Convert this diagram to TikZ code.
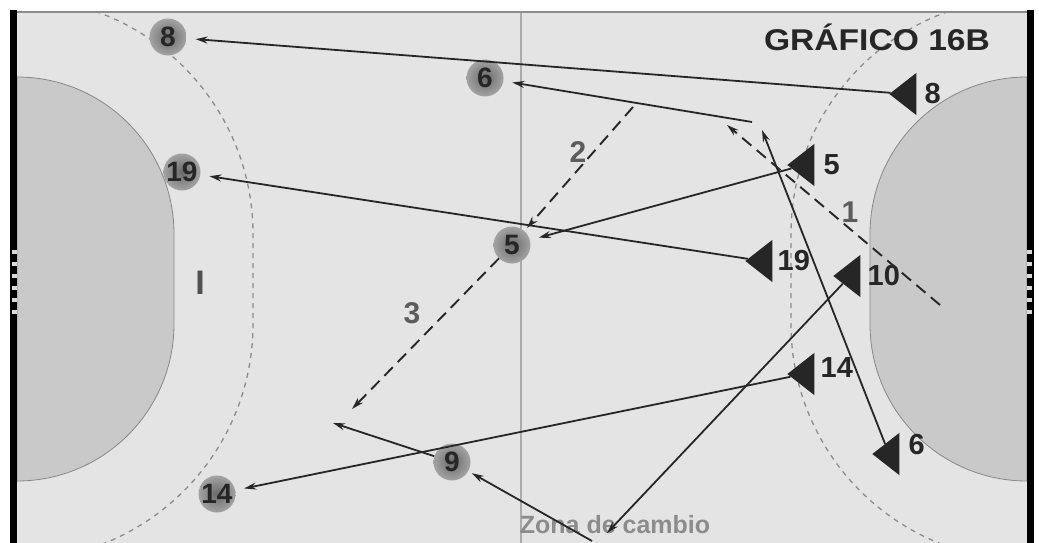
\documentclass[tikz,border=0pt]{standalone}
\usepackage{fontspec}
\setmainfont{Liberation Sans}
\usepackage{tikz}
\usetikzlibrary{shapes.geometric,arrows.meta,positioning,calc}
\definecolor{court}{HTML}{E4E4E4}
\definecolor{area}{HTML}{C9C9C9}
\definecolor{ink}{HTML}{262626}
\definecolor{mid}{HTML}{8C8C8C}
\definecolor{lbl}{HTML}{5C5C5C}

\begin{document}
\begin{tikzpicture}[x=1pt,y=-1pt,
    defn/.style={circle, inner sep=0pt, minimum size=37pt,
                 shading=radial, inner color=mid!75!black, outer color=mid!80!white,
                 font=\fontsize{28}{28}\selectfont\bfseries, text=ink},
    attk/.style={isosceles triangle, isosceles triangle apex angle=76,
                 shape border rotate=180, fill=ink, inner sep=0pt,
                 minimum height=27pt, minimum width=42pt, anchor=apex},
    num/.style={font=\fontsize{29}{29}\selectfont\bfseries, text=ink, inner sep=0pt},
    tag/.style={font=\fontsize{30}{30}\selectfont\bfseries, text=lbl, inner sep=0pt},
    run/.style={draw=ink, line width=1.8pt, shorten >=9pt,
                -{Stealth[length=12pt,width=7pt]}},
    pass/.style={draw=ink, line width=1.9pt, dash pattern=on 12pt off 7pt,
                -{Stealth[length=12pt,width=7pt]}},
    ninem/.style={draw=mid, line width=1.3pt, dash pattern=on 5pt off 5pt},
]
\useasboundingbox (0,0) rectangle (1039,543);
\fill[white] (0,0) rectangle (1039,543);
\fill[court] (17,12) rectangle (1027,543);

\begin{scope}
\clip (17,12) rectangle (1027,543);
\filldraw[fill=area, draw=ink!55, line width=0.8pt]
    (17,77) arc[start angle=-90, end angle=0, radius=157] -- (174,324)
    arc[start angle=0, end angle=90, radius=157] -- cycle;
\filldraw[fill=area, draw=ink!55, line width=0.8pt]
    (1027,77) arc[start angle=-90, end angle=-180, radius=157] -- (870,324)
    arc[start angle=180, end angle=90, radius=157] -- cycle;
\draw[ninem] (17,-2) arc[start angle=-90, end angle=0, radius=236] -- (253,324)
    arc[start angle=0, end angle=90, radius=236];
\draw[ninem] (1027,-2) arc[start angle=-90, end angle=-180, radius=236] -- (791,324)
    arc[start angle=180, end angle=90, radius=236];
\draw[area!85!black, line width=2.5pt] (521,12) -- (521,543);
\end{scope}

\draw[mid, line width=1.5pt] (17,12) -- (1027,12);
\fill[black] (10,10) rectangle (17,543);
\fill[black] (1027,10) rectangle (1034,543);
\foreach \y in {250,262,274,286,298,310} {
  \fill[white!85!black] (12,\y) rectangle (17,\y+4);
  \fill[white!85!black] (1027,\y) rectangle (1032,\y+4);
}

\node[font=\fontsize{30}{30}\selectfont\bfseries, text=ink] (title) at (877,37) {\scalebox{1.12}[1]{GRÁFICO 16B}};
\node[font=\fontsize{34}{34}\selectfont\bfseries, text=ink!80] (goalI) at (200,283) {I};
\node[font=\fontsize{25}{25}\selectfont\bfseries, text=mid] (zone) at (615,525) {Zona de cambio};

\node[defn] (c8) at (168,37) {8};
\node[defn] (c6) at (485,78) {6};
\node[defn] (c19) at (182,172) {19};
\node[defn] (c5) at (512,245) {5};
\node[defn] (c9) at (452,462) {9};
\node[defn] (c14) at (217,494) {14};

\node[attk] (t8) at (889,94) {};
\node[attk] (t5) at (787,165) {};
\node[attk] (t19) at (745,261) {};
\node[attk] (t10) at (833,276) {};
\node[attk] (t14) at (787,374) {};
\node[attk] (t6) at (872,454) {};

\node[num, right=8pt of t8] (n8) {8};
\node[num, right=9pt of t5] (n5) {5};
\node[num, right=5pt of t19] (n19) {19};
\node[num, right=7pt of t10] (n10) {10};
\node[num, right=6pt of t14, yshift=6pt] (n14) {14};
\node[num, right=9pt of t6, yshift=9pt] (n6) {6};

\coordinate (p6) at (752,122);
\coordinate (e6) at (762,130);
\coordinate (s1) at (940,305);
\coordinate (e1) at (727,125);
\coordinate (s2) at (633,107);
\coordinate (e3) at (352,409);
\coordinate (e9) at (333,423);
\coordinate (e10) at (607,533);
\coordinate (s9) at (592,541);

\draw[run] (t8) -- (c8);
\draw[run] (p6) -- (c6);
\draw[run, shorten >=0pt] (t6) -- (e6);
\draw[run] (t5) -- (c5);
\draw[run] (t19) -- (c19);
\draw[run] (t14) -- (c14);
\draw[run, shorten >=0pt] (t10) -- (e10);
\draw[run, shorten >=4pt] (s9) -- (c9);
\draw[run, shorten >=0pt] (c9) -- (e9);

\draw[pass] (s1) -- (e1);
\draw[pass, shorten >=4pt] (s2) -- (c5);
\draw[pass] (c5) -- (e3);
\node[tag] (l1) at (850,212) {1};
\node[tag] (l2) at (578,152) {2};
\node[tag] (l3) at (412,313) {3};
\end{tikzpicture}
\end{document}
